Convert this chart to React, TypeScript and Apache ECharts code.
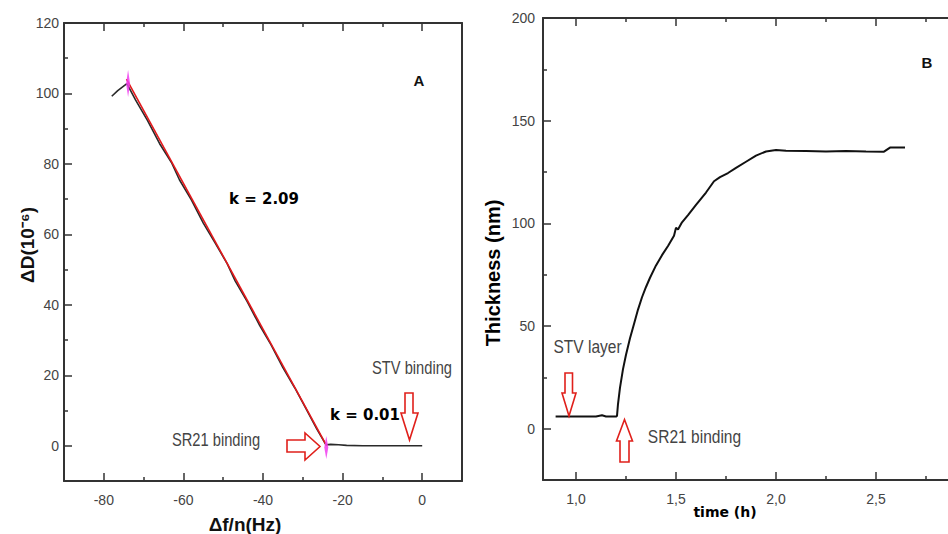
import React, { useEffect, useRef } from "react";
import * as echarts from "echarts";

// ---- Panel A data: ΔD vs Δf/n ----
const freqShift = [-78, -76.5, -74.2, -72, -69, -66, -63, -61, -58, -55, -52, -49, -47, -44, -41, -38, -35, -32, -29, -26.5, -24.2, -23, -21, -19, -15, -10, -5, 0];
const dissipation = [99.2, 100.8, 102.8, 98.1, 92.3, 85.8, 80.4, 75.5, 69.8, 63.2, 57.5, 51.7, 46.8, 41.0, 34.5, 28.7, 22.2, 16.4, 10.1, 4.8, 0.3, 0.4, 0.3, 0.1, 0.0, 0.0, 0.0, 0.0];
const fitX = [-74.3, -24.0];
const fitY = [104.1, 0];
const markerX = [-73.9, -24.1];
const markerY = [102.8, -0.5];
const aXMajor = [-80, -60, -40, -20, 0];
const aXMinor = [-70, -50, -30, -10];
const aYMajor = [0, 20, 40, 60, 80, 100, 120];
const aYMinor = [10, 30, 50, 70, 90, 110];

// ---- Panel B data: Thickness vs time ----
const timeH = [0.898, 1.0, 1.1, 1.13, 1.15, 1.2, 1.205, 1.21, 1.22, 1.235, 1.25, 1.27, 1.29, 1.31, 1.33, 1.35, 1.37, 1.4, 1.43, 1.46, 1.49, 1.5, 1.51, 1.53, 1.56, 1.6, 1.65, 1.69, 1.72, 1.76, 1.8, 1.85, 1.9, 1.95, 2.0, 2.05, 2.15, 2.25, 2.35, 2.45, 2.54, 2.57, 2.645];
const thickness = [5.9, 5.9, 5.9, 6.5, 5.9, 5.9, 6.2, 12, 20, 29, 36, 44, 51, 58, 64, 69, 73.5, 79.5, 84.5, 89, 94, 97.8, 97, 100.5, 104, 109, 115, 120.5, 122.5, 124.5, 127, 130, 133, 135, 135.7, 135.3, 135.2, 135.0, 135.2, 135.0, 134.9, 136.9, 136.9];
const bXMajor = [1.0, 1.5, 2.0, 2.5];
const bXMinor = [1.25, 1.75, 2.25, 2.75];
const bYMajor = [0, 50, 100, 150, 200];
const bYMinor = [25, 75, 125, 175];

const axisColor = "#333";
const labelColor = "#444";
const arial = "'Liberation Sans', Arial, sans-serif";
const wide = "'DejaVu Sans', Verdana, sans-serif";

function xAxes(gridIndex: number, min: number, max: number, major: number[], minor: number[], fmt: (v: number) => string) {
  const base = { type: "value", gridIndex, min, max, splitLine: { show: false } };
  const tickStyle = { color: axisColor, width: 1.5 };
  const line = { show: true, onZero: false, lineStyle: { color: axisColor, width: 2 } };
  return [
    { ...base, position: "bottom", axisLine: line, axisTick: { show: true, inside: true, length: 8, customValues: major, lineStyle: tickStyle },
      axisLabel: { show: true, customValues: major, margin: 12, formatter: fmt, fontFamily: arial, fontSize: 14, color: labelColor } },
    { ...base, position: "bottom", axisLine: { show: false, onZero: false }, axisTick: { show: true, inside: true, length: 4, customValues: minor, lineStyle: tickStyle }, axisLabel: { show: false } },
    { ...base, position: "top", axisLine: line, axisTick: { show: true, inside: true, length: 8, customValues: major, lineStyle: tickStyle }, axisLabel: { show: false } },
    { ...base, position: "top", axisLine: { show: false, onZero: false }, axisTick: { show: true, inside: true, length: 4, customValues: minor, lineStyle: tickStyle }, axisLabel: { show: false } },
  ];
}

function yAxes(gridIndex: number, min: number, max: number, major: number[], minor: number[], margin: number, rightLine: boolean) {
  const base = { type: "value", gridIndex, min, max, splitLine: { show: false } };
  const tickStyle = { color: axisColor, width: 1.5 };
  const line = { show: true, onZero: false, lineStyle: { color: axisColor, width: 2 } };
  const arr: any[] = [
    { ...base, position: "left", axisLine: line, axisTick: { show: true, inside: true, length: 8, customValues: major, lineStyle: tickStyle },
      axisLabel: { show: true, customValues: major, margin, fontFamily: arial, fontSize: 14, color: labelColor } },
    { ...base, position: "left", axisLine: { show: false, onZero: false }, axisTick: { show: true, inside: true, length: 4, customValues: minor, lineStyle: tickStyle }, axisLabel: { show: false } },
  ];
  if (rightLine) {
    arr.push({ ...base, position: "right", axisLine: line, axisTick: { show: false }, axisLabel: { show: false } });
  }
  return arr;
}

function arrow(points: number[][]) {
  return { type: "polygon", shape: { points }, style: { fill: "#fff", stroke: "#e0201b", lineWidth: 1.6 }, z: 10 };
}

function txt(x: number, y: number, text: string, font: string, size: number, weight: string, color: string, rotation = 0, scaleX = 1) {
  return { type: "text", x, y, rotation, scaleX, z: 10, style: { text, fontFamily: font, fontSize: size, fontWeight: weight, fill: color, align: "center", verticalAlign: "middle" } };
}

export default function App() {
  const ref = useRef<HTMLDivElement>(null);
  useEffect(() => {
    if (!ref.current) return;
    const chart = echarts.init(ref.current, null, { renderer: "svg" });
    const option: any = {
      animation: false,
      backgroundColor: "#fff",
      grid: [
        { left: 64, top: 23, width: 398, height: 458 },
        { left: 543, top: 18, width: 405, height: 462 },
      ],
      xAxis: [
        ...xAxes(0, -90, 10, aXMajor, aXMinor, (v: number) => String(v)),
        ...xAxes(1, 0.835, 2.86, bXMajor, bXMinor, (v: number) => v.toFixed(1).replace(".", ",")),
      ],
      yAxis: [
        ...yAxes(0, -10, 120, aYMajor, aYMinor, 5, true),
        ...yAxes(1, -25, 200, bYMajor, bYMinor, 8, false),
      ],
      series: [
        { type: "line", name: "ΔD", xAxisIndex: 0, yAxisIndex: 0, symbol: "none", data: freqShift.map((x, i) => [x, dissipation[i]]), lineStyle: { color: "#2a2a2a", width: 1.6 }, z: 2 },
        { type: "line", name: "fit", xAxisIndex: 0, yAxisIndex: 0, symbol: "none", data: fitX.map((x, i) => [x, fitY[i]]), lineStyle: { color: "#e3191c", width: 1.6 }, z: 3 },
        { type: "scatter", name: "marks", xAxisIndex: 0, yAxisIndex: 0, symbol: "diamond",
          data: markerX.map((x, i) => ({ value: [x, markerY[i]], symbolSize: i === 0 ? [4, 27] : [4, 23] })),
          itemStyle: { color: "#f03cf0", opacity: 0.85 }, z: 4 },
        { type: "line", name: "Thickness", xAxisIndex: 4, yAxisIndex: 3, symbol: "none", data: timeH.map((x, i) => [x, thickness[i]]), lineStyle: { color: "#111", width: 2 }, z: 2 },
      ],
      graphic: [
        txt(419, 80, "A", arial, 15, "bold", "#111"),
        txt(264, 199, "k = 2.09", wide, 15, "bold", "#000"),
        txt(365, 415, "k = 0.01", wide, 15, "bold", "#000"),
        txt(216, 440, "SR21 binding", arial, 17.5, "normal", "#444", 0, 0.84),
        txt(412, 368, "STV binding", arial, 17.5, "normal", "#444", 0, 0.84),
        arrow([[287, 440], [305, 440], [305, 433], [320, 446.5], [305, 460], [305, 452], [287, 452]]),
        arrow([[405, 393], [413, 393], [413, 413], [418, 413], [409.5, 440], [401, 413], [405, 413]]),
        txt(27, 245, "ΔD(10⁻⁶)", arial, 19, "bold", "#111", Math.PI / 2),
        txt(245, 524, "Δf/n(Hz)", arial, 19, "bold", "#111"),
        txt(927, 62, "B", arial, 15, "bold", "#111"),
        txt(587.5, 347, "STV layer", arial, 18.5, "normal", "#444", 0, 0.84),
        txt(694.5, 437, "SR21 binding", arial, 18.5, "normal", "#444", 0, 0.84),
        arrow([[565, 373], [572.5, 373], [572.5, 393], [576, 393], [569, 416], [562, 393], [565, 393]]),
        arrow([[624.5, 419.5], [632.5, 441], [629, 441], [629, 462], [620, 462], [620, 441], [616.5, 441]]),
        txt(493, 273, "Thickness (nm)", arial, 20, "bold", "#000", Math.PI / 2),
        txt(725, 512, "time (h)", wide, 14, "bold", "#000"),
      ],
    };
    chart.setOption(option);
    return () => chart.dispose();
  }, []);
  return <div ref={ref} style={{ position: "absolute", left: 0, top: 0, width: 948, height: 534 }} />;
}
